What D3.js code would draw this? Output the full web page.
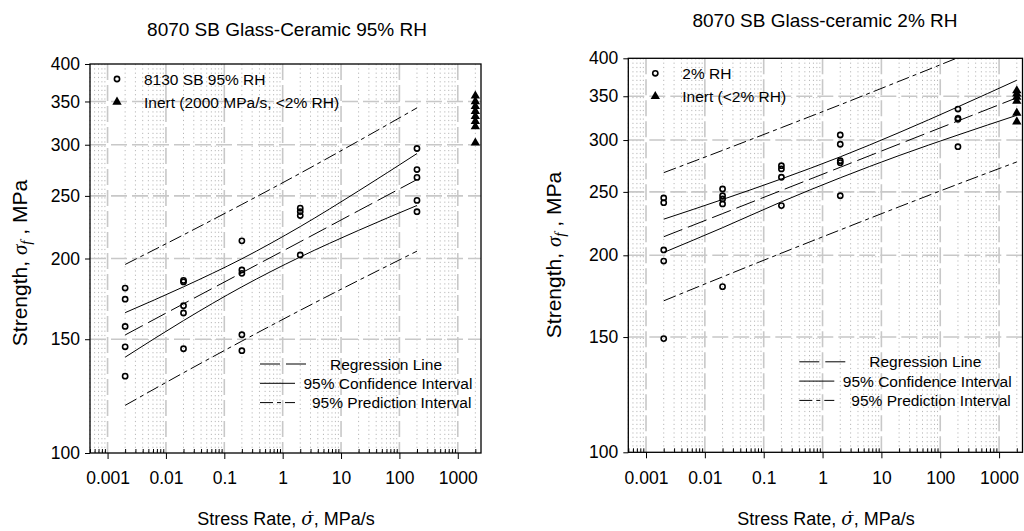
<!DOCTYPE html>
<html>
<head>
<meta charset="utf-8">
<script src="https://cdn.jsdelivr.net/npm/d3@7"></script>
<style>
body { margin:0; background:#fff; }
svg { display:block; font-family:"Liberation Sans", Arial, sans-serif; }
.title { font-size:19px; }
.ticklab text { font-size:17.5px; fill:#000; }
.legend { font-size:15.5px; }
.label { font-size:21px; }
.greek { font-family:"Liberation Serif", serif; font-style:italic; }
.rate { font-family:"DejaVu Serif", serif; font-style:italic; }
</style>
</head>
<body>
<svg id="chart" width="1024" height="531"></svg>
<script>
// ---- data ----
var rateTicks = [0.001, 0.01, 0.1, 1, 10, 100, 1000]
var rateTickLabels = ["0.001", "0.01", "0.1", "1", "10", "100", "1000"]
var strengthTicks = [100, 150, 200, 250, 300, 350, 400]
var strengthGrid = [150, 200, 250, 300, 350]

// left panel: 95% RH
var rh95Rate = [0.002,0.002,0.002,0.002,0.002, 0.02,0.02,0.02,0.02,0.02,
                0.2,0.2,0.2,0.2,0.2, 2,2,2,2, 200,200,200,200,200]
var rh95Strength = [180,173,157,146,131.5, 185,184,169,164.7,145,
                    213,192,189.7,152.4,144, 239.3,236.4,233.1,202.5, 296,274.6,267,246,236.3]
var inert95Strength = [357, 350, 344, 338, 332, 326, 320, 302]

var fit95Rate = [0.002, 0.02, 0.2, 2, 20, 200]
var reg95 = [152.3, 170.2, 190.1, 212.3, 237.2, 265.0]
var ciUp95 = [164.9, 180.8, 199.8, 224.1, 254.5, 290.7]
var ciLo95 = [140.7, 160.3, 180.8, 201.1, 221.1, 241.6]
var piUp95 = [195.8, 217.6, 242.5, 271.0, 304.1, 342.1]
var piLo95 = [118.5, 133.1, 149.0, 166.3, 185.0, 205.3]

// right panel: 2% RH
var rh2Rate = [0.002,0.002,0.002,0.002,0.002, 0.02,0.02,0.02,0.02,0.02,
               0.2,0.2,0.2,0.2, 2,2,2,2,2, 200,200,200,200]
var rh2Strength = [244.7,240.7,203.8,196,149.2, 252.6,246.6,243.9,239.6,179.1,
                   274.1,271,263.2,238.2, 305.4,295.6,279,277.1,246.6, 334.6,323.9,322.7,293.1]
var inert2Strength = [357, 353, 349, 344, 330, 320]

var fit2Rate = [0.002, 0.02, 0.2, 2, 20, 200, 2000]
var reg2 = [213.5, 231.6, 251.3, 272.6, 295.8, 320.9, 348.1]
var ciUp2 = [227.1, 243.4, 261.7, 282.8, 308.0, 337.2, 370.3]
var ciLo2 = [202.0, 220.4, 241.4, 262.7, 284.1, 305.4, 327.3]
var piUp2 = [267.5, 289.3, 313.4, 339.7, 368.9, 400.9, 436.2]
var piLo2 = [170.4, 185.4, 201.5, 218.7, 237.2, 256.9, 277.8]

var inertRate = 2000

var regDash = "20,6"
var piDash = "13,4,4,4"

var svg = d3.select("#chart")

var drawPanel = function(p)
{
    var w = p.right - p.left
    var h = p.bottom - p.top

    var xScale = d3.scaleLog()
        .domain([0.0005, 2500])
        .range([0, w])
    var yScale = d3.scaleLog()
        .domain([100, 400])
        .range([h, 0])

    var g = svg.append("g")
        .attr("transform", "translate(" + p.left + "," + p.top + ")")

    g.append("clipPath").attr("id", p.id + "clip")
        .append("rect").attr("width", w).attr("height", h)

    var minor = xScale.ticks().filter(function(d) {
        return rateTicks.every(function(t) { return Math.abs(d / t - 1) > 1e-6 })
    })

    // grid
    g.selectAll(".minor").data(minor).enter().append("line")
        .attr("x1", function(d) { return xScale(d) })
        .attr("x2", function(d) { return xScale(d) })
        .attr("y1", 0).attr("y2", h)
        .attr("stroke", "#b8b8b8")
        .attr("stroke-width", 1)
        .attr("stroke-dasharray", "1.2,3.1")

    g.selectAll(".vmaj").data(rateTicks).enter().append("line")
        .attr("x1", function(d) { return xScale(d) })
        .attr("x2", function(d) { return xScale(d) })
        .attr("y1", 0).attr("y2", h)
        .attr("stroke", "#c8c8c8")
        .attr("stroke-width", 1.6)
        .attr("stroke-dasharray", "16,5")

    g.selectAll(".hmaj").data(strengthGrid).enter().append("line")
        .attr("x1", 0).attr("x2", w)
        .attr("y1", function(d) { return yScale(d) })
        .attr("y2", function(d) { return yScale(d) })
        .attr("stroke", "#c8c8c8")
        .attr("stroke-width", 1.6)
        .attr("stroke-dasharray", "16,5")

    // axes
    var xAxis = d3.axisBottom(xScale)
        .tickValues(rateTicks)
        .tickFormat(function(d, i) { return rateTickLabels[i] })
        .tickSize(6)
        .tickPadding(13)
    g.append("g").classed("ticklab", true)
        .attr("transform", "translate(0," + h + ")")
        .call(xAxis)
        .call(function(a) { a.select(".domain").remove() })

    var xMinor = d3.axisBottom(xScale)
        .tickValues(minor)
        .tickFormat("")
        .tickSize(-4)
    g.append("g")
        .attr("transform", "translate(0," + h + ")")
        .call(xMinor)
        .call(function(a) { a.select(".domain").remove() })

    var yAxis = d3.axisLeft(yScale)
        .tickValues(strengthTicks)
        .tickFormat(d3.format("d"))
        .tickSize(5)
        .tickPadding(5)
    g.append("g").classed("ticklab", true)
        .call(yAxis)
        .call(function(a) { a.select(".domain").remove() })

    g.append("rect")
        .attr("width", w).attr("height", h)
        .attr("fill", "none")
        .attr("stroke", "#000")
        .attr("stroke-width", 1.3)

    // fit lines
    var lines = g.append("g").attr("clip-path", "url(#" + p.id + "clip)")
    var curve = function(vals)
    {
        return d3.line()
            .x(function(d, i) { return xScale(p.fitRate[i]) })
            .y(function(d) { return yScale(d) })
            .curve(d3.curveMonotoneX)(vals)
    }
    var fits = [
        {vals: p.reg, dash: regDash},
        {vals: p.ciUp, dash: null},
        {vals: p.ciLo, dash: null},
        {vals: p.piUp, dash: piDash},
        {vals: p.piLo, dash: piDash}
    ]
    lines.selectAll("path").data(fits).enter().append("path")
        .attr("d", function(f) { return curve(f.vals) })
        .attr("fill", "none")
        .attr("stroke", "#000")
        .attr("stroke-width", 1)
        .attr("stroke-dasharray", function(f) { return f.dash })

    // points
    g.selectAll(".pt").data(p.strength).enter().append("circle")
        .attr("cx", function(d, i) { return xScale(p.rate[i]) })
        .attr("cy", function(d) { return yScale(d) })
        .attr("r", 2.6)
        .attr("fill", "none")
        .attr("stroke", "#000")
        .attr("stroke-width", 1.6)

    var tri = d3.symbol().type(d3.symbolTriangle).size(38)
    g.selectAll(".inert").data(p.inert).enter().append("path")
        .attr("d", tri)
        .attr("transform", function(d) {
            return "translate(" + xScale(inertRate) + "," + yScale(d) + ")"
        })
        .attr("fill", "#000")

    // symbol legend
    var leg = g.append("g").classed("legend", true)
    leg.append("circle")
        .attr("cx", 27).attr("cy", 15).attr("r", 2.6)
        .attr("fill", "none").attr("stroke", "#000").attr("stroke-width", 1.6)
    leg.append("path").attr("d", tri)
        .attr("transform", "translate(27,38)")
    leg.append("text").text(p.legend1).attr("x", 54).attr("y", 20.5)
    leg.append("text").text(p.legend2).attr("x", 54).attr("y", 43.5)

    // line legend
    var lg = g.append("g").classed("legend", true)
        .attr("transform", "translate(" + p.lineLeg[0] + "," + p.lineLeg[1] + ")")
    var rows = [
        {text: "Regression Line", len: 46, dash: regDash, tx: 70},
        {text: "95% Confidence Interval", len: 35, dash: null, tx: 43.5},
        {text: "95% Prediction Interval", len: 35, dash: piDash, tx: 52}
    ]
    rows.forEach(function(r, i)
    {
        lg.append("line")
            .attr("x1", 0).attr("x2", r.len)
            .attr("y1", i * 19.3).attr("y2", i * 19.3)
            .attr("stroke", "#000").attr("stroke-width", 1)
            .attr("stroke-dasharray", r.dash)
        lg.append("text").text(r.text)
            .attr("x", r.tx).attr("y", i * 19.3 + 5.5)
    })

    // labels
    svg.append("text").classed("title", true)
        .attr("x", p.titlePos[0]).attr("y", p.titlePos[1])
        .attr("text-anchor", "middle")
        .text(p.title)

    var yl = svg.append("text").classed("label", true)
        .attr("text-anchor", "middle")
        .attr("transform", "translate(" + p.yLabPos[0] + "," + p.yLabPos[1] + ") rotate(-90)")
    yl.append("tspan").text("Strength, ")
    yl.append("tspan").classed("greek", true).text("σ")
    yl.append("tspan").classed("greek", true).attr("font-size", "15px").attr("dy", 4).text("f")
    yl.append("tspan").attr("dy", -4).text(" , MPa")

    // x label: sigma with combining dot above
    var xl = svg.append("text").classed("label", true)
        .attr("text-anchor", "middle")
        .attr("x", p.xLabPos[0]).attr("y", p.xLabPos[1])
        .style("font-size", "18px")
    xl.append("tspan").text("Stress Rate, ")
    xl.append("tspan").classed("rate", true).text("\u03C3\u0307")
    xl.append("tspan").text(", MPa/s")
}

drawPanel({
    id: "p95", left: 90, right: 481, top: 64, bottom: 453,
    rate: rh95Rate, strength: rh95Strength, inert: inert95Strength,
    fitRate: fit95Rate, reg: reg95, ciUp: ciUp95, ciLo: ciLo95, piUp: piUp95, piLo: piLo95,
    legend1: "8130 SB 95% RH", legend2: "Inert (2000 MPa/s, <2% RH)",
    lineLeg: [170, 300],
    title: "8070 SB Glass-Ceramic 95% RH", titlePos: [287, 36],
    yLabPos: [27, 263], xLabPos: [286, 525]
})

drawPanel({
    id: "p2", left: 628.3, right: 1022.5, top: 58.3, bottom: 452.3,
    rate: rh2Rate, strength: rh2Strength, inert: inert2Strength,
    fitRate: fit2Rate, reg: reg2, ciUp: ciUp2, ciLo: ciLo2, piUp: piUp2, piLo: piLo2,
    legend1: "2% RH", legend2: "Inert (<2% RH)",
    lineLeg: [171, 303.5],
    title: "8070 SB Glass-ceramic 2% RH", titlePos: [825, 27],
    yLabPos: [561, 255], xLabPos: [826, 525]
})
</script>
</body>
</html>
